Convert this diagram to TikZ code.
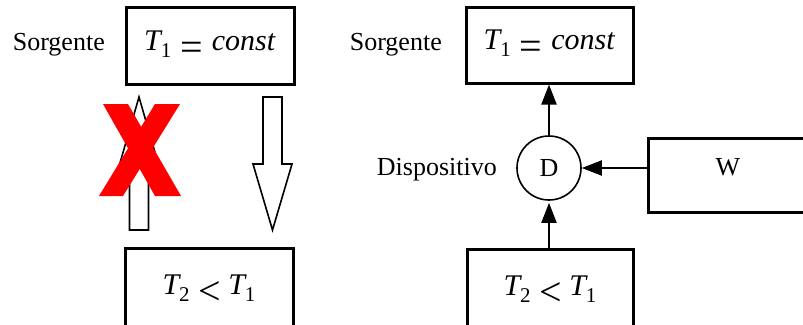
\documentclass[tikz,border=0pt]{standalone}
\usepackage{fontspec}
\setmainfont{Liberation Serif}
\newfontfamily\tnr{Liberation Serif}
\usetikzlibrary{arrows.meta}
\newcommand{\Tsub}[1]{{\itshape T}\raisebox{-7pt}{\fontsize{21}{21}\selectfont #1}}
\newcommand{\bigrel}[1]{\raisebox{-10pt}{\fontsize{40}{40}\selectfont #1}}
\begin{document}
\begin{tikzpicture}[x=1pt,y=-1pt,
  box/.style={draw, line width=3pt, rectangle, inner sep=0pt},
  lbl/.style={font=\tnr\fontsize{26}{30}\selectfont, inner sep=0pt},
  mth/.style={font=\tnr\fontsize{30}{34}\selectfont},
  conn/.style={line width=2pt, -{Triangle[length=20pt,width=15pt]}},
  holl/.style={draw, line width=1.6pt, fill=white, line join=miter}
]
\useasboundingbox (0,0) rectangle (803,324);
\clip (0,0) rectangle (803,324);

% left side
\node[box, minimum width=168pt, minimum height=77pt, mth] (TL) at (210,45.5)
  {\Tsub{1}\hspace{9pt}\bigrel{=}\hspace{9pt}\textit{const}\hspace{14pt}};
\node[box, minimum width=168pt, minimum height=88pt, mth, text depth=14pt] (BL) at (209,292)
  {\Tsub{2}\hspace{9pt}\bigrel{<}\hspace{7pt}\Tsub{1}\hspace{6pt}};
\node[lbl, anchor=base east] (SL) at (105,50) {Sorgente};

% hollow block arrows
\draw[holl] (129.5,230) -- (129.5,163) -- (120,163) -- (139,97) -- (158,163) -- (148.5,163) -- (148.5,230) -- cycle;
\draw[holl] (263,97) -- (263,164) -- (253,164) -- (272.5,230) -- (292,164) -- (282,164) -- (282,97) -- cycle;

% red cross
\fill[red] (103,104) -- (128,104) -- (181,196) -- (155,196) -- cycle;
\fill[red] (155,104) -- (180,104) -- (123,196) -- (99,196) -- cycle;

% right side
\node[box, minimum width=167pt, minimum height=76pt, mth] (TR) at (549.5,45)
  {\Tsub{1}\hspace{9pt}\bigrel{=}\hspace{9pt}\textit{const}\hspace{14pt}};
\node[box, minimum width=166pt, minimum height=88pt, mth, text depth=14pt] (BR) at (550,293)
  {\Tsub{2}\hspace{9pt}\bigrel{<}\hspace{7pt}\Tsub{1}\hspace{6pt}};
\node[lbl, anchor=base east] (SR) at (442,50) {Sorgente};
\node[draw, circle, line width=1.6pt, minimum size=64pt, inner sep=0pt, lbl] (D) at (549,168) {D};
\node[lbl, anchor=base east] (DL) at (497,175) {Dispositivo};
\node[box, minimum width=160pt, minimum height=74pt, lbl, text depth=16pt] (W) at (728,175) {W};

\draw[conn] (D.north) -- (D.north |- TR.south);
\draw[conn, shorten >=2pt] (D.south |- BR.north) -- (D.south);
\draw[conn] (W.west |- D.east) -- (D.east);
\end{tikzpicture}
\end{document}
